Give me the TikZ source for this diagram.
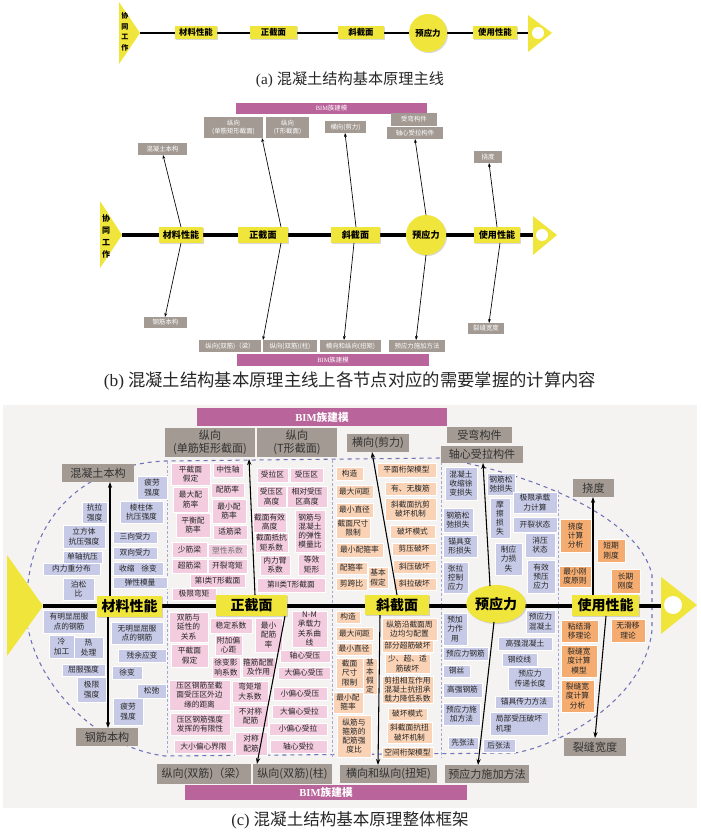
\documentclass[tikz,border=0pt]{standalone}
\usepackage{fontspec}
\setmainfont{Liberation Serif}
\newfontfamily\cjk{Noto Sans CJK SC}
\usetikzlibrary{arrows.meta,shadows,shapes.geometric}
\definecolor{yel}{HTML}{F0E53A}
\definecolor{gry}{HTML}{A39A93}
\definecolor{bim}{HTML}{B9649B}
\definecolor{pnk}{HTML}{F3CCDF}
\definecolor{pch}{HTML}{FAD3B6}
\definecolor{lav}{HTML}{C7CAE7}
\definecolor{org}{HTML}{F5AC70}
\definecolor{dsh}{HTML}{6E72B8}
\definecolor{vds}{HTML}{A3A7D8}
\definecolor{bgc}{HTML}{F5F3F1}
\newcommand\bx[7]{\node[#1,minimum width={(#5-#3)*0.75pt},minimum height={(#6-#4)*0.75pt}] (#2) at ({(#3+#5)/2},{(#4+#6)/2}) {#7};}
\begin{document}
\begin{tikzpicture}[x=0.75pt,y=-0.75pt,
  sm/.style={inner sep=0pt,align=center,draw=white,line width=0.3pt,text=black!85,font=\fontsize{5.8}{6.9}\selectfont\cjk},
  mb/.style={sm,fill=lav},
  zb/.style={sm,fill=pnk},
  xb/.style={sm,fill=pch},
  yb/.style={sm,fill=lav},
  sb/.style={sm,fill=org},
  gc/.style={fill=gry,inner sep=0pt,align=center,text=black!80,font=\fontsize{8.3}{10}\selectfont\cjk},
  gb/.style={fill=gry,inner sep=0pt,align=center,text=white,font=\fontsize{4.8}{6}\selectfont\cjk},
  shad/.style={drop shadow={shadow xshift=0.8pt,shadow yshift=-0.8pt,opacity=0.3}},
  yc/.style={fill=yel,inner sep=0pt,shad,font=\fontsize{10.5}{12}\selectfont\cjk\bfseries},
  ybb/.style={fill=yel,inner sep=0pt,shad,font=\fontsize{6.8}{8}\selectfont\cjk\bfseries},
  ya/.style={fill=yel,inner sep=0pt,shad,font=\fontsize{6.3}{7}\selectfont\cjk\bfseries},
  bimc/.style={fill=bim,inner sep=0pt,text=white,font=\fontsize{8}{9}\selectfont\bfseries},
  bimb/.style={fill=bim,inner sep=0pt,text=white,font=\fontsize{4.8}{6}\selectfont},
  arc/.style={line width=0.8pt,-{Stealth[length=4.5pt,width=3.2pt]}},
  arb/.style={line width=0.5pt,-{Stealth[length=3pt,width=2.2pt]}},
  vtxt/.style={inner sep=0pt,align=center},
  captxt/.style={inner sep=0pt,text=black!85}
]
\useasboundingbox (0,0) rectangle (700,834);

%%%%%%%%%%%%%%%% (a)
\fill[yel] (119,2) -- (140,33) -- (119,64) -- cycle;
\node[vtxt,font=\fontsize{5.3}{7.9}\selectfont\cjk\bfseries] (atxt) at (125,32) {协\\同\\工\\作};
\coordinate (aL) at (140,33); \coordinate (aR) at (528,33);
\draw[line width=2.2pt] (aL) -- (aR);
\fill[yel] (528,15) -- (552,33) -- (528,52) -- cycle;
\fill[white] (538,33) circle (6);
\bx{ya}{a1}{175}{26}{217}{39}{材料性能}
\bx{ya}{a2}{250}{26}{297}{39}{正截面}
\bx{ya}{a3}{338}{26}{384}{39}{斜截面}
\node[ya,circle,minimum size={38*0.75pt}] (a4) at (428,33) {预应力};
\bx{ya}{a5}{473}{26}{517}{39}{使用性能}
\node[captxt,font=\fontsize{11.4}{13}\selectfont] (capa) at (350,80) {(a)\hspace{3pt}{\cjk 混凝土结构基本原理主线}};

%%%%%%%%%%%%%%%% (b)
\fill[yel] (100,201) -- (122,235) -- (100,268) -- cycle;
\node[vtxt,font=\fontsize{6}{9}\selectfont\cjk\bfseries] (btxt) at (106,236) {协\\同\\工\\作};
\coordinate (bL) at (122,235); \coordinate (bR) at (533,235);
\draw[line width=2.8pt] (bL) -- (bR);
\fill[yel] (533,216) -- (557,235) -- (533,255) -- cycle;
\fill[white] (542,235) circle (6);
\bx{ybb}{b1}{159}{227}{203}{243}{材料性能}
\bx{ybb}{b2}{238}{227}{288}{243}{正截面}
\bx{ybb}{b3}{331}{227}{380}{243}{斜截面}
\node[ybb,circle,minimum size={40*0.75pt}] (b4) at (426,235) {预应力};
\bx{ybb}{b5}{474}{227}{520}{243}{使用性能}
\bx{bimb}{bbim1}{236}{103}{427}{114}{BIM{\cjk 族建模}}
\bx{bimb}{bbim2}{237}{354}{429}{366}{BIM{\cjk 族建模}}
\bx{gb}{bg1}{204}{117}{263}{138}{纵向\\(单筋矩形截面)}
\bx{gb}{bg2}{266}{117}{309}{138}{纵向\\(T形截面)}
\bx{gb}{bg3}{325}{121}{366}{133}{横向(剪力)}
\bx{gb}{bg4}{391}{113}{437}{126}{受弯构件}
\bx{gb}{bg5}{387}{127}{443}{139}{轴心受拉构件}
\bx{gb}{bg6}{138}{143}{187}{155}{混凝土本构}
\bx{gb}{bg7}{474}{151}{502}{163}{挠度}
\bx{gb}{bg8}{144}{317}{187}{328}{钢筋本构}
\bx{gb}{bg9}{199}{340}{261}{352}{纵向(双筋)（梁）}
\bx{gb}{bg10}{263}{340}{317}{352}{纵向(双筋)(柱)}
\bx{gb}{bg11}{320}{340}{381}{352}{横向和纵向(扭矩)}
\bx{gb}{bg12}{389}{340}{445}{352}{预应力施加方法}
\bx{gb}{bg13}{468}{323}{504}{334}{裂缝宽度}
\coordinate (bu1) at (181,227); \coordinate (bu1e) at (163,155);
\coordinate (bd1) at (181,243); \coordinate (bd1e) at (165,317);
\coordinate (bu2) at (281,227); \coordinate (bu2e) at (262,138);
\coordinate (bd2) at (281,243); \coordinate (bd2e) at (263,340);
\coordinate (bu3) at (356,227); \coordinate (bu3e) at (345,133);
\coordinate (bd3) at (354,243); \coordinate (bd3e) at (344,340);
\coordinate (bu4) at (426,215); \coordinate (bu4e) at (415,139);
\coordinate (bd4) at (426,255); \coordinate (bd4e) at (416,340);
\coordinate (bu5) at (497,227); \coordinate (bu5e) at (489,163);
\coordinate (bd5) at (500,243); \coordinate (bd5e) at (489,323);
\foreach \i in {1,...,5}{\draw[arb] (bu\i) -- (bu\i e); \draw[arb] (bd\i) -- (bd\i e);}
\node[captxt,font=\fontsize{13}{15}\selectfont] (capb) at (350,381) {(b)\hspace{3pt}{\cjk 混凝土结构基本原理主线上各节点对应的需要掌握的计算内容}};

%%%%%%%%%%%%%%%% (c)
\fill[bgc] (3,405) rectangle (697,808);
% dashed boundary
\draw[dsh,dashed,line width=0.8pt] (28,583) .. controls (35,520) and (80,465) .. (165,461) -- (440,458)
  .. controls (540,475) and (640,520) .. (652,575) -- (652,630)
  .. controls (645,700) and (560,745) .. (515,753) -- (165,756)
  .. controls (100,748) and (40,690) .. (28,628);
\draw[vds,dash pattern=on 2pt off 1.5pt,line width=0.6pt] (167,461) -- (167,755);
\draw[vds,dash pattern=on 2pt off 1.5pt,line width=0.6pt] (332,460) -- (332,758);
\draw[vds,dash pattern=on 2pt off 1.5pt,line width=0.6pt] (441,458) -- (441,758);
\draw[vds,dash pattern=on 2pt off 1.5pt,line width=0.6pt] (558,490) -- (558,738);
% main line
\fill[yel] (7,555) -- (43,606) -- (7,656) -- cycle;
\coordinate (cL) at (43,606); \coordinate (cR) at (661,606);
\draw[line width=3.6pt] (cL) -- (cR);
\fill[yel] (661,577) -- (697,605) -- (661,634) -- cycle;
\fill[white] (673,605) circle (9);
% top/bottom bars
\bx{bimc}{cbim1}{197}{408}{447}{426}{BIM{\cjk 族建模}}
\bx{bimc}{cbim2}{185}{785}{467}{800}{BIM{\cjk 族建模}}
\bx{gc}{cg1}{165}{428}{255}{457}{纵向\\(单筋矩形截面)}
\bx{gc}{cg2}{257}{428}{337}{457}{纵向\\(T形截面)}
\bx{gc}{cg3}{347}{434}{409}{452}{横向(剪力)}
\bx{gc}{cg4}{447}{427}{512}{443}{受弯构件}
\bx{gc}{cg5}{441}{446}{523}{463}{轴心受拉构件}
\bx{gc}{cg6}{573}{479}{614}{497}{挠度}
\bx{gc}{cg7}{62}{464}{134}{482}{混凝土本构}
\bx{gc}{cg8}{76}{728}{138}{746}{钢筋本构}
\bx{gc}{cg9}{157}{764}{251}{784}{纵向(双筋)（梁）}
\bx{gc}{cg10}{253}{764}{332}{784}{纵向(双筋)(柱)}
\bx{gc}{cg11}{340}{765}{437}{783}{横向和纵向(扭矩)}
\bx{gc}{cg12}{445}{765}{529}{783}{预应力施加方法}
\bx{gc}{cg13}{564}{738}{626}{756}{裂缝宽度}
% materials
\bx{mb}{m1}{137}{476}{167}{499}{疲劳\\强度}
\bx{mb}{m2}{82}{502}{107}{523}{抗拉\\强度}
\bx{mb}{m3}{120}{501}{163}{523}{棱柱体\\抗压强度}
\bx{mb}{m4}{63}{525}{105}{548}{立方体\\抗压强度}
\bx{mb}{m5}{113}{531}{157}{543}{三向受力}
\bx{mb}{m6}{113}{547}{157}{559}{双向受力}
\bx{mb}{m7}{63}{551}{102}{563}{单轴抗压}
\bx{mb}{m8}{43}{563}{100}{575}{内力重分布}
\bx{mb}{m9}{113}{562}{163}{575}{收缩\hspace{5pt}徐变}
\bx{mb}{m10}{113}{577}{167}{588}{弹性模量}
\bx{mb}{m11}{63}{578}{94}{600}{泊松\\比}
\bx{mb}{m12}{43}{610}{95}{633}{有明显屈服\\点的钢筋}
\bx{mb}{m13}{111}{622}{163}{644}{无明显屈服\\点的钢筋}
\bx{mb}{m14}{49}{635}{74}{658}{冷\\加工}
\bx{mb}{m15}{74}{637}{103}{658}{热\\处理}
\bx{mb}{m16}{118}{649}{166}{662}{残余应变}
\bx{mb}{m17}{62}{664}{105}{676}{屈服强度}
\bx{mb}{m18}{112}{666}{142}{679}{徐变}
\bx{mb}{m19}{77}{677}{106}{702}{极限\\强度}
\bx{mb}{m20}{137}{684}{166}{698}{松弛}
\bx{mb}{m21}{113}{698}{143}{725}{疲劳\\强度}
% zheng jiemian
\bx{zb}{z1}{171}{463}{210}{485}{平截面\\假定}
\bx{zb}{z2}{213}{463}{243}{477}{中性轴}
\bx{zb}{z3}{173}{487}{208}{512}{最大配\\筋率}
\bx{zb}{z4}{211}{483}{244}{497}{配筋率}
\bx{zb}{z5}{212}{499}{246}{523}{最小配\\筋率}
\bx{zb}{z6}{176}{513}{210}{537}{平衡配\\筋率}
\bx{zb}{z7}{213}{525}{247}{539}{适筋梁}
\bx{zb}{z8}{172}{542}{207}{557}{少筋梁}
\bx{zb,text=black!55}{z9}{208}{544}{247}{557}{塑性系数}
\bx{zb}{z10}{172}{559}{207}{573}{超筋梁}
\bx{zb}{z11}{208}{559}{247}{573}{开裂弯矩}
\bx{zb}{z12}{190}{574}{245}{587}{第I类T形截面}
\bx{zb}{z13}{172}{588}{216}{600}{极限弯矩}
\bx{zb}{z14}{257}{468}{288}{482}{受拉区}
\bx{zb}{z15}{290}{468}{323}{482}{受压区}
\bx{zb}{z16}{257}{486}{286}{507}{受压区\\高度}
\bx{zb}{z17}{287}{486}{327}{507}{相对受压\\区高度}
\bx{zb}{z18}{253}{512}{286}{532}{截面有效\\高度}
\bx{zb}{z19}{295}{510}{325}{552}{钢筋与\\混凝土\\的弹性\\模量比}
\bx{zb}{z20}{255}{533}{288}{552}{截面抵抗\\矩系数}
\bx{zb}{z21}{260}{555}{290}{575}{内力臂\\系数}
\bx{zb}{z22}{298}{554}{325}{575}{等效\\矩形}
\bx{zb}{z23}{257}{578}{325}{592}{第II类T形截面}
\bx{zb}{z24}{169}{612}{208}{642}{双筋与\\延性的\\关系}
\bx{zb}{z25}{210}{618}{252}{633}{稳定系数}
\bx{zb}{z26}{255}{618}{282}{652}{最小\\配筋\\率}
\bx{zb}{z27}{171}{644}{208}{667}{平截面\\假定}
\bx{zb}{z28}{215}{635}{242}{655}{附加偏\\心距}
\bx{zb}{z29}{212}{657}{240}{678}{徐变影\\响系数}
\bx{zb}{z30}{242}{657}{275}{677}{箍筋配置\\及作用}
\bx{zb}{z31}{292}{611}{327}{647}{N-M\\承载力\\关系曲\\线}
\bx{zb}{z32}{280}{650}{330}{662}{轴心受压}
\bx{zb}{z33}{278}{667}{330}{679}{大偏心受压}
\bx{zb}{z34}{169}{680}{230}{710}{压区钢筋至截\\面受压区外边\\缘的距离}
\bx{zb}{z35}{232}{681}{268}{702}{弯矩增\\大系数}
\bx{zb}{z36}{273}{687}{327}{700}{小偏心受压}
\bx{zb}{z37}{233}{705}{268}{727}{不对称\\配筋}
\bx{zb}{z38}{272}{705}{327}{718}{大偏心受拉}
\bx{zb}{z39}{170}{713}{230}{735}{压区钢筋强度\\发挥的有限性}
\bx{zb}{z40}{269}{723}{327}{735}{小偏心受拉}
\bx{zb}{z41}{235}{732}{267}{755}{对称\\配筋}
\bx{zb}{z42}{174}{740}{233}{753}{大小偏心界限}
\bx{zb}{z43}{270}{740}{327}{753}{轴心受拉}
% xie jiemian
\bx{xb}{x1}{336}{467}{363}{480}{构造}
\bx{xb}{x2}{377}{463}{436}{477}{平面桁架模型}
\bx{xb}{x3}{385}{482}{436}{495}{有、无腹筋}
\bx{xb}{x4}{336}{485}{373}{498}{最大间距}
\bx{xb}{x5}{385}{498}{436}{520}{斜截面抗剪\\破坏机制}
\bx{xb}{x6}{336}{503}{373}{517}{最小直径}
\bx{xb}{x7}{336}{518}{370}{538}{截面尺寸\\限制}
\bx{xb}{x8}{390}{525}{435}{538}{破坏模式}
\bx{xb}{x9}{336}{543}{383}{557}{最小配箍率}
\bx{xb}{x10}{392}{543}{436}{555}{剪压破坏}
\bx{xb}{x11}{336}{562}{367}{574}{配箍率}
\bx{xb}{x12}{368}{567}{388}{588}{基本\\假定}
\bx{xb}{x13}{393}{560}{436}{573}{斜压破坏}
\bx{xb}{x14}{336}{578}{367}{590}{剪跨比}
\bx{xb}{x15}{393}{578}{436}{590}{斜拉破坏}
\bx{xb}{x16}{336}{611}{360}{623}{构造}
\bx{xb}{x17}{382}{618}{437}{640}{纵筋沿截面周\\边均匀配置}
\bx{xb}{x18}{336}{627}{373}{640}{最大间距}
\bx{xb}{x19}{382}{640}{433}{652}{部分超筋破坏}
\bx{xb}{x20}{336}{643}{372}{655}{最小直径}
\bx{xb}{x21}{336}{658}{363}{688}{截面\\尺寸\\限制}
\bx{xb}{x22}{363}{658}{377}{694}{基\\本\\假\\定}
\bx{xb}{x23}{385}{654}{430}{673}{少、超、适\\筋破坏}
\bx{xb}{x24}{382}{676}{433}{703}{剪扭相互作用\\混凝土抗扭承\\载力降低系数}
\bx{xb}{x25}{333}{692}{363}{713}{最小配\\箍率}
\bx{xb}{x26}{337}{715}{371}{757}{纵筋与\\箍筋的\\配筋强\\度比}
\bx{xb}{x27}{388}{708}{427}{720}{破坏模式}
\bx{xb}{x28}{387}{722}{432}{743}{斜截面抗扭\\破坏机制}
\bx{xb}{x29}{382}{747}{433}{758}{空间桁架模型}
% yu yingli
\bx{yb}{y1}{445}{467}{477}{500}{混凝土\\收缩徐\\变损失}
\bx{yb}{y2}{487}{473}{515}{495}{钢筋松\\弛损失}
\bx{yb}{y3}{443}{508}{473}{532}{钢筋松\\弛损失}
\bx{yb}{y4}{490}{498}{510}{538}{摩\\擦\\损\\失}
\bx{yb}{y5}{513}{492}{557}{513}{极限承载\\力计算}
\bx{yb}{y6}{513}{517}{557}{532}{开裂状态}
\bx{yb}{y7}{443}{535}{477}{557}{锚具变\\形损失}
\bx{yb}{y8}{495}{543}{522}{575}{制应\\力损\\失}
\bx{yb}{y9}{525}{533}{555}{557}{消压\\状态}
\bx{yb}{y10}{443}{562}{468}{593}{张拉\\控制\\应力}
\bx{yb}{y11}{527}{560}{555}{593}{有效\\预压\\应力}
\bx{yb}{y12}{443}{613}{467}{645}{预加\\力作\\用}
\bx{yb}{y13}{526}{610}{555}{633}{预应力\\混凝土}
\bx{yb}{y14}{443}{647}{488}{660}{预应力钢筋}
\bx{yb}{y15}{498}{637}{552}{650}{高强混凝土}
\bx{yb}{y16}{502}{653}{537}{666}{钢绞线}
\bx{yb}{y17}{443}{665}{470}{677}{钢丝}
\bx{yb}{y18}{508}{667}{552}{690}{预应力\\传递长度}
\bx{yb}{y19}{443}{683}{482}{697}{高强钢筋}
\bx{yb}{y20}{495}{696}{553}{708}{锚具传力方法}
\bx{yb}{y21}{443}{703}{480}{725}{预应力施\\加方法}
\bx{yb,align=left}{y22}{490}{712}{548}{735}{局部受压破坏\\机理}
\bx{yb}{y23}{448}{737}{478}{749}{先张法}
\bx{yb}{y24}{483}{739}{515}{752}{后张法}
% shiyong xingneng
\bx{sb}{s1}{560}{519}{591}{552}{挠度\\计算\\分析}
\bx{sb}{s2}{597}{539}{625}{562}{短期\\刚度}
\bx{sb}{s3}{559}{566}{591}{587}{最小刚\\度原则}
\bx{sb}{s4}{611}{569}{640}{593}{长期\\刚度}
\bx{sb}{s5}{561}{620}{598}{642}{粘结滑\\移理论}
\bx{sb}{s6}{611}{619}{645}{642}{无滑移\\理论}
\bx{sb}{s7}{561}{645}{597}{677}{裂缝宽\\度计算\\模型}
\bx{sb}{s8}{561}{680}{594}{712}{裂缝宽\\度计算\\分析}
% yellow nodes
\bx{yc}{c1}{97}{596}{162}{617}{材料性能}
\bx{yc}{c2}{216}{595}{287}{616}{正截面}
\bx{yc}{c3}{365}{595}{429}{615}{斜截面}
\node[yc,ellipse,minimum width={56*0.75pt},minimum height={38*0.75pt}] (c4) at (496,604) {预应力};
\bx{yc}{c5}{572}{595}{639}{616}{使用性能}
% arrows
\coordinate (cu1) at (110,596); \coordinate (cu1e) at (110,482);
\coordinate (cd1) at (108,617); \coordinate (cd1e) at (108,728);
\coordinate (cu2) at (255,595); \coordinate (cu2e) at (249,459);
\coordinate (cd2) at (285,616); \coordinate (cd2e) at (257,764);
\coordinate (cu3) at (397,595); \coordinate (cu3e) at (372,452);
\coordinate (cd3) at (380,615); \coordinate (cd3e) at (378,765);
\coordinate (cu4) at (490,586); \coordinate (cu4e) at (483,463);
\coordinate (cd4) at (494,622); \coordinate (cd4e) at (478,765);
\coordinate (cu5) at (593,595); \coordinate (cu5e) at (593,497);
\coordinate (cd5) at (606,616); \coordinate (cd5e) at (595,738);
\foreach \i in {1,...,5}{\draw[arc] (cu\i) -- (cu\i e); \draw[arc] (cd\i) -- (cd\i e);}
\node[captxt,font=\fontsize{12.4}{14}\selectfont] (capc) at (350,820) {(c)\hspace{3pt}{\cjk 混凝土结构基本原理整体框架}};
\end{tikzpicture}
\end{document}
